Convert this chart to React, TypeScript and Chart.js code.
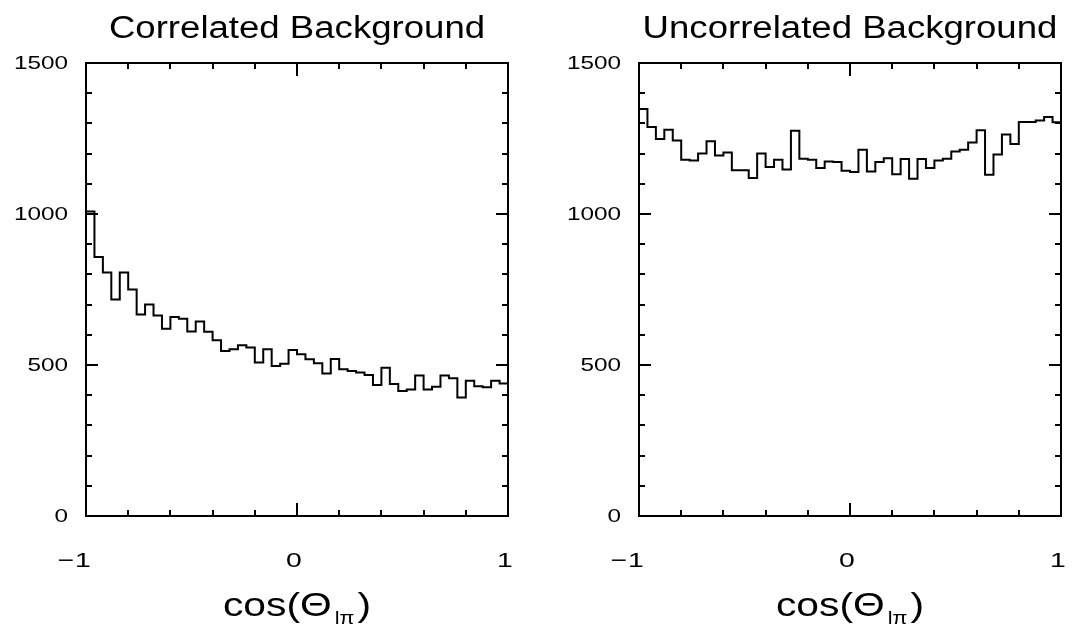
import React, { useEffect, useRef } from 'react';
import { Chart, registerables } from 'chart.js';

Chart.register(...registerables);

// ---------- data ----------
const X_MIN = -1;
const X_MAX = 1;
const Y_MIN = 0;
const Y_MAX = 1500;

const X_TICK_LABELS = [-1, 0, 1];
const Y_TICK_LABELS = [0, 500, 1000, 1500];
const X_MINOR_STEP = 0.2;
const Y_MINOR_STEP = 100;

const PANEL_TITLES = ['Correlated Background', 'Uncorrelated Background'];
const X_TITLE_MAIN = 'cos(\u0398';
const X_TITLE_SUB = 'l\u03c0';
const X_TITLE_END = ')';

const CORRELATED = [
  1008, 858, 806, 717, 806, 750, 667, 700, 664, 620,
  659, 653, 611, 644, 610, 582, 546, 552, 565, 558,
  508, 552, 497, 504, 550, 536, 519, 506, 472, 520,
  486, 480, 475, 467, 434, 491, 437, 414, 419, 465,
  419, 428, 465, 456, 392, 448, 430, 426, 448, 439,
];

const UNCORRELATED = [
  1348, 1288, 1248, 1279, 1243, 1180, 1177, 1200, 1241, 1194,
  1204, 1145, 1145, 1119, 1200, 1156, 1180, 1147, 1276, 1183,
  1180, 1152, 1174, 1172, 1143, 1139, 1213, 1141, 1172, 1185,
  1132, 1182, 1117, 1182, 1152, 1177, 1183, 1207, 1213, 1237,
  1277, 1130, 1197, 1263, 1232, 1305, 1305, 1310, 1321, 1304,
];

// ---------- style ----------
const FONT_FAMILY = '"Liberation Sans", Arial, Helvetica, sans-serif';
const INK = '#000000';

function histPoints(values: number[]) {
  const n = values.length;
  const w = (X_MAX - X_MIN) / n;
  const pts = values.map((v, i) => ({ x: X_MIN + i * w, y: v }));
  pts.push({ x: X_MAX, y: values[n - 1] });
  return pts;
}

function drawStretched(
  ctx: CanvasRenderingContext2D,
  text: string,
  x: number,
  y: number,
  size: number,
  stretch: number,
  align: 'left' | 'center' | 'right'
) {
  ctx.save();
  ctx.font = `${size}px ${FONT_FAMILY}`;
  ctx.textBaseline = 'alphabetic';
  ctx.textAlign = 'left';
  const w = ctx.measureText(text).width * stretch;
  const x0 = align === 'center' ? x - w / 2 : align === 'right' ? x - w : x;
  ctx.translate(x0, y);
  ctx.scale(stretch, 1);
  ctx.fillStyle = INK;
  ctx.fillText(text, 0, 0);
  ctx.restore();
  return w;
}

function measureStretched(ctx: CanvasRenderingContext2D, text: string, size: number, stretch: number) {
  ctx.save();
  ctx.font = `${size}px ${FONT_FAMILY}`;
  const w = ctx.measureText(text).width * stretch;
  ctx.restore();
  return w;
}

const framePlugin = {
  id: 'hbookFrame',
  afterDatasetsDraw(chart: any, _args: any, opts: any) {
    const ctx: CanvasRenderingContext2D = chart.ctx;
    const { left, right, top, bottom } = chart.chartArea;
    const xs = chart.scales.x;
    const ys = chart.scales.y;

    ctx.save();
    ctx.strokeStyle = INK;
    ctx.lineWidth = 2;
    ctx.lineJoin = 'miter';
    ctx.strokeRect(left, top, right - left, bottom - top);

    ctx.beginPath();
    const nx = Math.round((X_MAX - X_MIN) / X_MINOR_STEP);
    for (let i = 1; i < nx; i++) {
      const v = X_MIN + i * X_MINOR_STEP;
      const px = Math.round(xs.getPixelForValue(v));
      const major = X_TICK_LABELS.some((t) => Math.abs(t - v) < 1e-9);
      const len = major ? 13 : 6;
      ctx.moveTo(px, bottom);
      ctx.lineTo(px, bottom - len);
      ctx.moveTo(px, top);
      ctx.lineTo(px, top + len);
    }
    const ny = Math.round((Y_MAX - Y_MIN) / Y_MINOR_STEP);
    for (let i = 1; i < ny; i++) {
      const v = Y_MIN + i * Y_MINOR_STEP;
      const py = Math.round(ys.getPixelForValue(v));
      const major = Y_TICK_LABELS.includes(v);
      const len = major ? 12 : 6;
      ctx.moveTo(left, py);
      ctx.lineTo(left + len, py);
      ctx.moveTo(right, py);
      ctx.lineTo(right - len, py);
    }
    ctx.stroke();
    ctx.restore();

    // y tick labels
    const yLabelSize = 18;
    const yStretch = 1.35;
    ys.ticks.forEach((t: any) => {
      const py = ys.getPixelForValue(t.value);
      drawStretched(ctx, String(t.value), left - 18, py + yLabelSize * 0.358, yLabelSize, yStretch, 'right');
    });

    // x tick labels: digits centred on the tick, minus sign hanging left
    const xLabelSize = 21;
    const xStretch = 1.35;
    xs.ticks.forEach((t: any) => {
      const px = xs.getPixelForValue(t.value) - 3;
      const digits = String(Math.abs(t.value));
      const base = 567;
      const w = drawStretched(ctx, digits, px, base, xLabelSize, xStretch, 'center');
      if (t.value < 0) {
        drawStretched(ctx, '\u2212', px - w / 2 - 1, base, xLabelSize, xStretch, 'right');
      }
    });

    // panel title
    const cx = (left + right) / 2;
    drawStretched(ctx, opts.title, cx, 38, 31, 1.18, 'center');

    // x-axis title with subscript
    const mainSize = 34;
    const subSize = 18;
    const st = 1.2;
    const w1 = measureStretched(ctx, X_TITLE_MAIN, mainSize, st);
    const w2 = measureStretched(ctx, X_TITLE_SUB, subSize, st);
    const w3 = measureStretched(ctx, X_TITLE_END, mainSize, st);
    const gap = 3;
    const total = w1 + gap + w2 + gap + w3;
    let x = cx - total / 2;
    x += drawStretched(ctx, X_TITLE_MAIN, x, 616, mainSize, st, 'left') + gap;
    x += drawStretched(ctx, X_TITLE_SUB, x, 624, subSize, st, 'left') + gap;
    drawStretched(ctx, X_TITLE_END, x, 616, mainSize, st, 'left');
  },
};

type PanelProps = {
  values: number[];
  title: string;
  width: number;
  padLeft: number;
  padRight: number;
};

const HEIGHT = 628;
const PAD_TOP = 63;
const PAD_BOTTOM = 112;

function Panel({ values, title, width, padLeft, padRight }: PanelProps) {
  const ref = useRef<HTMLCanvasElement | null>(null);

  useEffect(() => {
    if (!ref.current) return;
    const chart = new Chart(ref.current, {
      type: 'line',
      data: {
        datasets: [
          {
            data: histPoints(values),
            stepped: true,
            borderColor: INK,
            borderWidth: 2,
            pointRadius: 0,
            fill: false,
            tension: 0,
          },
        ],
      },
      options: {
        animation: false,
        responsive: false,
        maintainAspectRatio: false,
        devicePixelRatio: 1,
        layout: { padding: { left: padLeft, right: padRight, top: PAD_TOP, bottom: PAD_BOTTOM } },
        plugins: {
          legend: { display: false },
          tooltip: { enabled: false },
          title: { display: false },
          hbookFrame: { title },
        } as any,
        scales: {
          x: {
            type: 'linear',
            min: X_MIN,
            max: X_MAX,
            grid: { display: false },
            border: { display: false },
            ticks: { display: false },
            afterBuildTicks: (s: any) => {
              s.ticks = X_TICK_LABELS.map((v) => ({ value: v }));
            },
            afterFit: (s: any) => {
              s.height = 0;
            },
          },
          y: {
            type: 'linear',
            min: Y_MIN,
            max: Y_MAX,
            grid: { display: false },
            border: { display: false },
            ticks: { display: false },
            afterBuildTicks: (s: any) => {
              s.ticks = Y_TICK_LABELS.map((v) => ({ value: v }));
            },
            afterFit: (s: any) => {
              s.width = 0;
            },
          },
        },
      },
      plugins: [framePlugin],
    });
    return () => chart.destroy();
  }, [values, title, width, padLeft, padRight]);

  return <canvas ref={ref} width={width} height={HEIGHT} style={{ display: 'block', width, height: HEIGHT }} />;
}

export default function App() {
  return (
    <div
      style={{
        position: 'absolute',
        left: 0,
        top: 0,
        width: 1077,
        height: HEIGHT,
        background: '#ffffff',
        display: 'flex',
        flexDirection: 'row',
      }}
    >
      <Panel values={CORRELATED} title={PANEL_TITLES[0]} width={538} padLeft={86} padRight={30} />
      <Panel values={UNCORRELATED} title={PANEL_TITLES[1]} width={539} padLeft={101} padRight={16} />
    </div>
  );
}
